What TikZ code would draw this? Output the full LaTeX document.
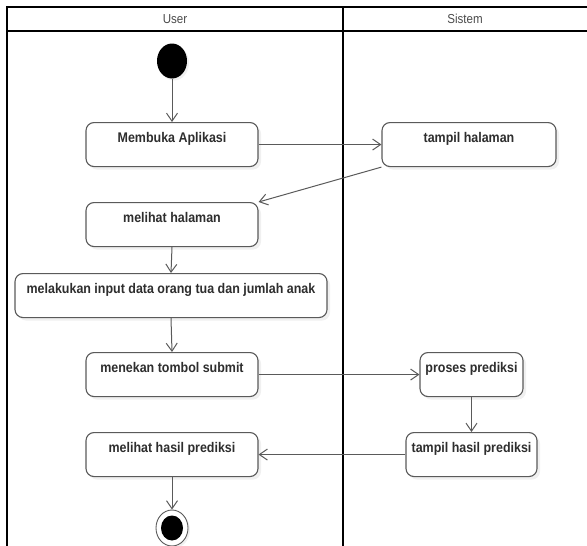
\documentclass[tikz,border=0pt]{standalone}
\usepackage{fontspec}
\setmainfont[FakeStretch=0.89]{Liberation Sans}
\usetikzlibrary{arrows.meta,shadows,shapes.geometric}
\definecolor{edge}{HTML}{5A5A5A}
\definecolor{ink}{HTML}{2E2E2E}
\definecolor{head}{HTML}{4A4A4A}
\tikzset{
  lane/.style={line width=1.8pt, black},
  lanetitle/.style={font=\fontsize{13}{15}\selectfont, text=head},
  actbox/.style={draw=edge, line width=1.1pt, rounded corners=8pt, fill=white,
    font=\bfseries\fontsize{14}{16}\selectfont, text=ink,
    inner xsep=0pt, inner ysep=0pt, text height=20pt, text depth=24pt,
    anchor=north, align=center,
    drop shadow={opacity=0.12, shadow xshift=3pt, shadow yshift=-3pt}},
  flow/.style={draw=edge, line width=1pt, -{Straight Barb[length=8pt,width=11pt]}},
  startdot/.style={ellipse, fill=black, minimum width=30pt, minimum height=35pt, inner sep=0pt,
    drop shadow={opacity=0.12, shadow xshift=2pt, shadow yshift=-2pt}},
  enddot/.style={ellipse, draw=edge, line width=0.9pt, fill=white, minimum width=32pt, minimum height=36pt, inner sep=0pt,
    drop shadow={opacity=0.12, shadow xshift=2pt, shadow yshift=-2pt}},
}
\begin{document}
\begin{tikzpicture}[x=1pt, y=-1pt]
  \useasboundingbox (0,0) rectangle (587,546);

  % swimlane frame
  \coordinate (tl) at (7,7);
  \coordinate (tr) at (587,7);
  \coordinate (hl) at (7,31);
  \coordinate (hr) at (587,31);
  \coordinate (bl) at (7,546);
  \coordinate (dt) at (343,7);
  \coordinate (db) at (343,546);
  \draw[lane] (tr) -- (tl) -- (bl);
  \draw[lane] (hl) -- (hr);
  \draw[lane] (dt) -- (db);
  \node[lanetitle] (laneuser) at (175,19) {User};
  \node[lanetitle] (lanesys) at (465,19) {Sistem};

  % activities
  \node[startdot] (start) at (172,61) {};
  \node[actbox, minimum width=172pt] (buka) at (172,122) {Membuka Aplikasi};
  \node[actbox, minimum width=174pt] (tampil) at (469,122) {tampil halaman};
  \node[actbox, minimum width=172pt] (lihat) at (172,202) {melihat halaman};
  \node[actbox, minimum width=312pt] (input) at (171,273) {melakukan input data orang tua dan jumlah anak};
  \node[actbox, minimum width=172pt] (submit) at (172,352) {menekan tombol submit};
  \node[actbox, minimum width=103pt] (proses) at (471.5,352) {proses prediksi};
  \node[actbox, minimum width=131pt] (hasil) at (471.5,432) {tampil hasil prediksi};
  \node[actbox, minimum width=172pt] (lihathasil) at (172,432) {melihat hasil prediksi};
  \node[enddot] (finish) at (172,528) {};
  \fill[black] (finish.center) ellipse (11pt and 12.5pt);

  % control flow
  \draw[flow] (start) -- (buka.north);
  \draw[flow] (buka.east) -- (tampil.west);
  \draw[flow] (tampil.south west) -- (lihat.north east);
  \draw[flow] (lihat.south) -- (input.north);
  \draw[flow] (input.south) -- (submit.north);
  \draw[flow] (submit.east) -- (proses.west);
  \draw[flow] (proses.south) -- (hasil.north);
  \draw[flow] (hasil.west) -- (lihathasil.east);
  \draw[flow] (lihathasil.south) -- (finish.north);
\end{tikzpicture}
\end{document}
